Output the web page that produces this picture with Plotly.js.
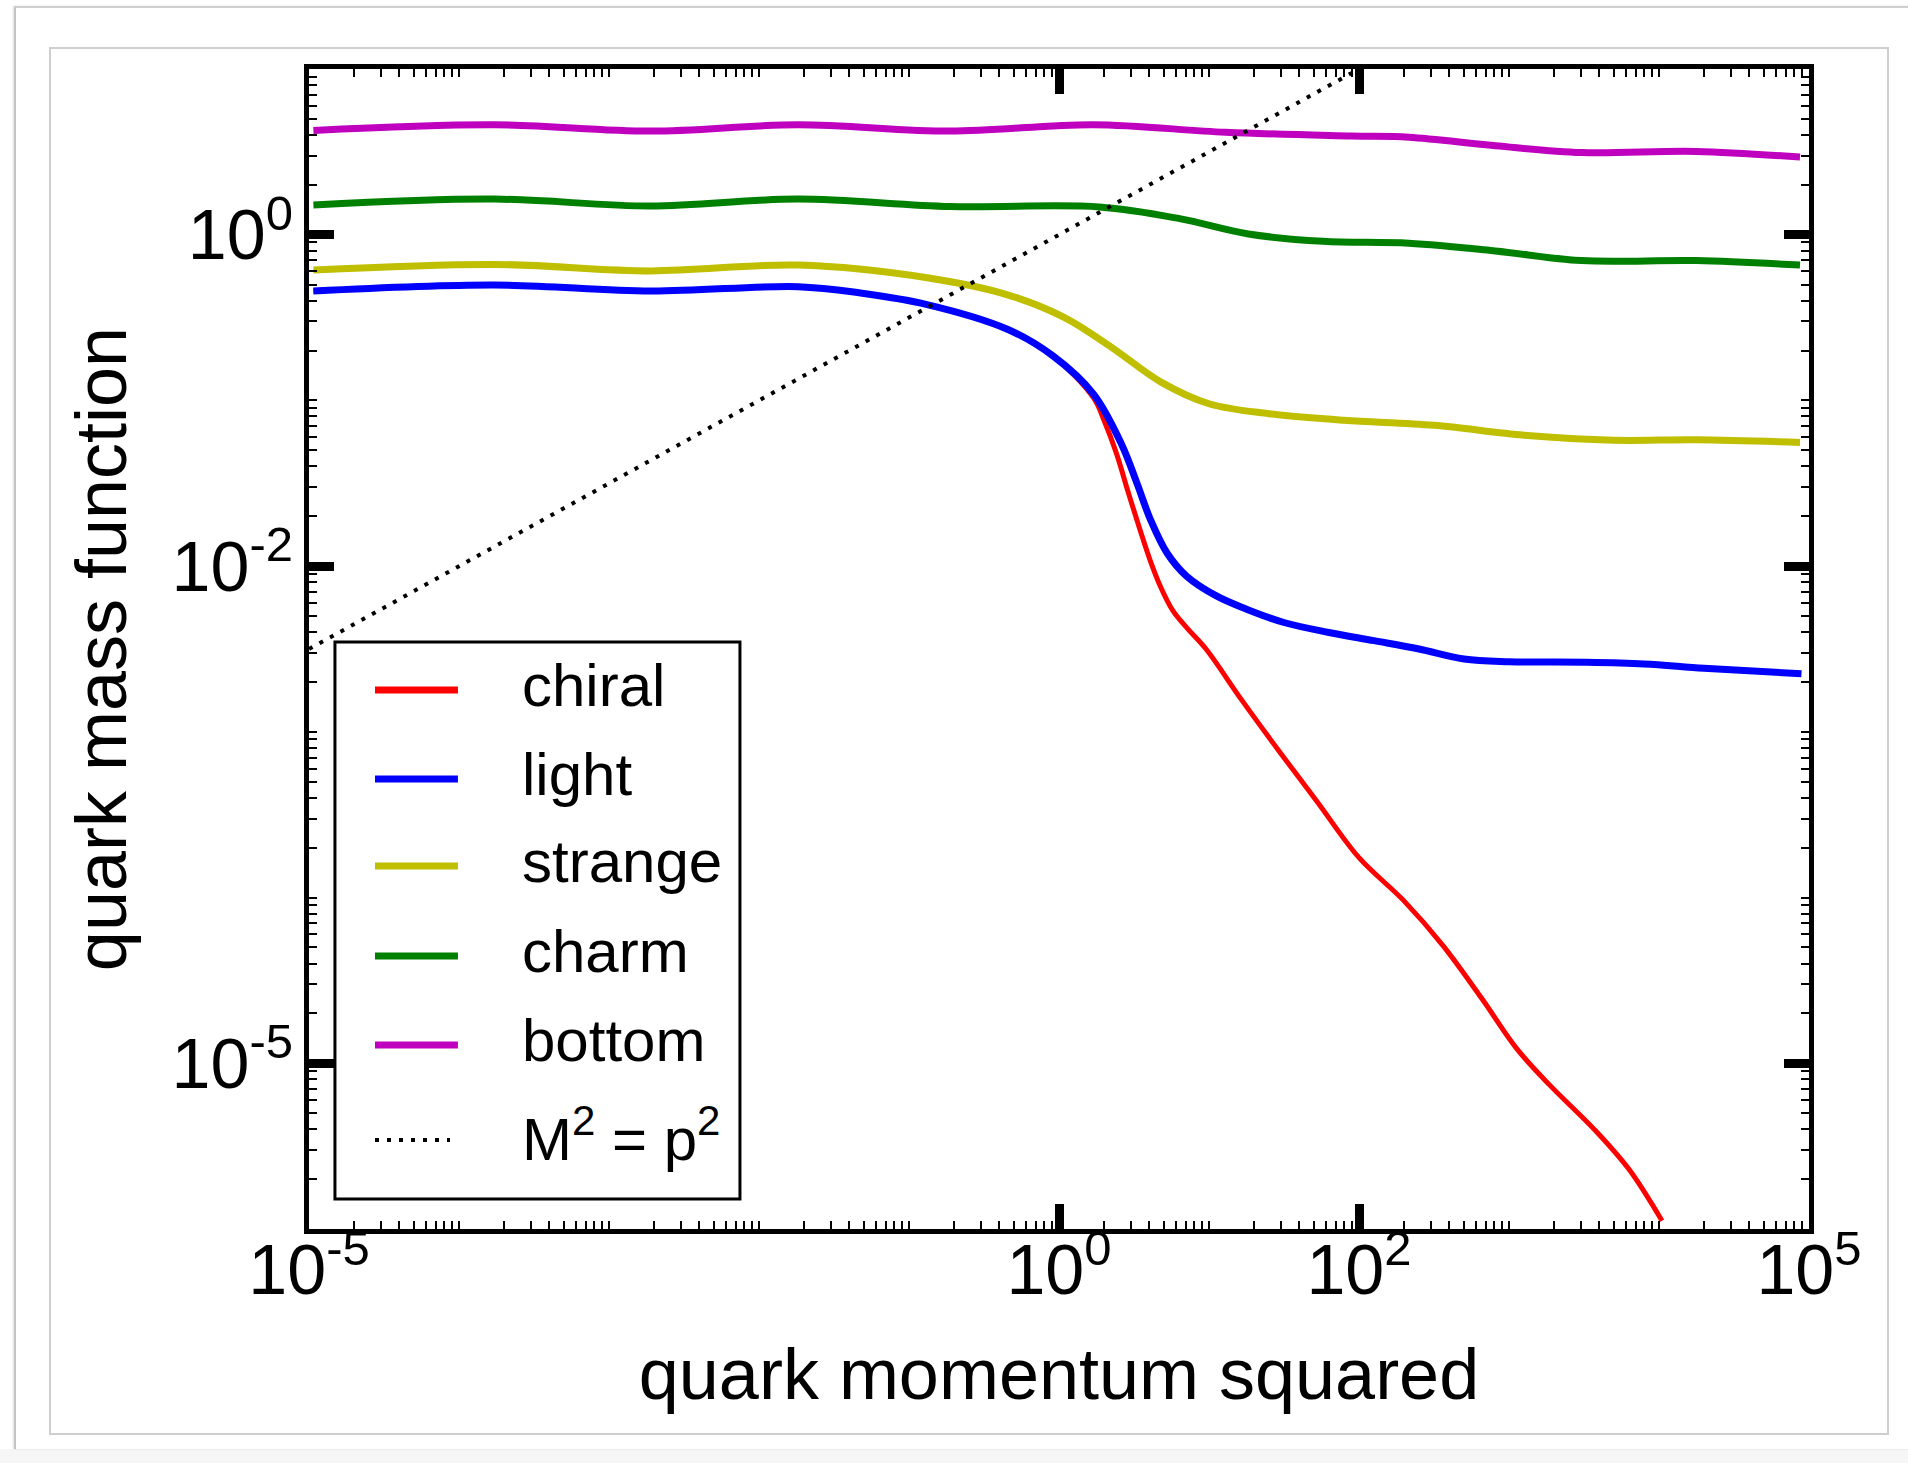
<!DOCTYPE html>
<html>
<head>
<meta charset="utf-8">
<script src="https://cdn.plot.ly/plotly-3.0.1.min.js"></script>
<style>
  html, body { margin: 0; padding: 0; background: #ffffff; }
  #card { position: absolute; left: 14px; top: 6px; width: 1920px; height: 1441px;
          border-left: 2px solid #c4c4c4; border-top: 2px solid #d0d0d0;
          box-shadow: -1px 0 2px rgba(0,0,0,0.12); background: #fff; }
  #under { position: absolute; left: 0; top: 1449px; width: 1908px; height: 14px; background: #f6f6f6; }
  #frame { position: absolute; left: 49px; top: 47px; width: 1836px; height: 1384px;
           border: 2px solid #cfcfcf; }
  #chart { position: absolute; left: 0; top: 0; width: 1908px; height: 1463px; }
</style>
</head>
<body>
<div id="under"></div>
<div id="card"></div>
<div id="frame"></div>
<div id="chart"></div>
<script>
// ---- data (quark momentum squared p^2, quark mass function M) ----
const chiralP = [1.07e-5, 1.72e-4, 1.89e-3, 1.82e-2, 4.74e-2, 0.132, 0.453, 0.916,
                 1.70, 1.995, 2.415, 2.884, 3.467, 4.074, 4.786, 5.754, 7.244, 9.550, 16.41, 29.51, 52.48,
                 100, 199.5, 363.1, 660.7, 1122, 1862, 3715, 6310, 10470];
const chiralM = [0.457, 0.497, 0.457, 0.486, 0.445, 0.379, 0.269, 0.185,
                 0.1035, 0.0759, 0.0479, 0.0282, 0.0166, 0.0107, 0.00741, 0.00537, 0.00417, 0.00316, 0.00157, 7.59e-4, 3.80e-4,
                 1.74e-4, 9.55e-5, 5.13e-5, 2.45e-5, 1.23e-5, 7.41e-6, 3.98e-6, 2.29e-6, 1.12e-6];

const lightP = [1.07e-5, 1.72e-4, 1.89e-3, 1.82e-2, 4.74e-2, 0.132, 0.453, 0.916, 1.70,
                2.63, 3.31, 4.07, 5.25, 7.08, 11.2, 17.8, 31.6, 63.1, 126, 251, 501, 1000,
                3160, 7940, 19950, 89100];
const lightM = [0.457, 0.497, 0.457, 0.486, 0.445, 0.379, 0.269, 0.185, 0.109,
                0.0537, 0.0316, 0.0191, 0.0120, 0.00871, 0.00661, 0.00550, 0.00457, 0.00398,
                0.00355, 0.00316, 0.00275, 0.00265, 0.00263, 0.00257, 0.00242, 0.00224];

const strangeP = [1.07e-5, 1.72e-4, 1.89e-3, 1.82e-2, 0.132, 0.453, 1.09, 2.24, 4.79,
                  10, 25.1, 79.4, 316, 1260, 5010, 17800, 87100];
const strangeM = [0.612, 0.662, 0.605, 0.656, 0.550, 0.434, 0.316, 0.209, 0.129,
                  0.0955, 0.0832, 0.0759, 0.0708, 0.0617, 0.0575, 0.0579, 0.0558];

const charmP = [1.07e-5, 1.72e-4, 1.89e-3, 1.82e-2, 0.188, 1.86, 6.37, 18.3, 57.7,
                215, 811, 3040, 17700, 87100];
const charmM = [1.51, 1.64, 1.49, 1.64, 1.48, 1.47, 1.25, 1.01, 0.912,
                0.887, 0.798, 0.698, 0.698, 0.656];

const bottomP = [1.07e-5, 1.72e-4, 1.89e-3, 1.82e-2, 0.188, 1.70, 12.9, 89.5,
                 215, 811, 3040, 17700, 87100];
const bottomM = [4.26, 4.61, 4.22, 4.61, 4.22, 4.61, 4.15, 3.94,
                 3.87, 3.44, 3.13, 3.18, 2.94];

const diagP = [1e-5, 100];
const diagM = [0.00316, 10];

const seriesNames = ['chiral', 'light', 'strange', 'charm', 'bottom', 'M<sup>2</sup> = p<sup>2</sup>'];
const seriesColors = ['#ff0000', '#0000ff', '#bfbf00', '#008000', '#bf00bf', '#000000'];

const xTickVals = [1e-5, 1, 100, 1e5];
const xTickText = ['10<sup>-5</sup>', '10<sup>0</sup>', '10<sup>2</sup>', '10<sup>5</sup>'];
const yTickVals = [1e-5, 1e-2, 1];
const yTickText = ['10<sup>-5</sup>', '10<sup>-2</sup>', '10<sup>0</sup>'];

// ---- minor tick positions (every k*10^n) ----
function minorTicks(nLo, nHi, majorExps) {
  const out = [];
  for (let n = nLo; n <= nHi; n++) {
    for (let k = 1; k < 10; k++) {
      if (k === 1 && majorExps.includes(n)) continue;
      out.push(k * Math.pow(10, n));
    }
  }
  return out;
}
const minorX = minorTicks(-5, 4, [-5, 0, 2]);
const minorY = minorTicks(-6, 0, [-5, -2, 0]);

const FONT = '"Liberation Sans", Arial, sans-serif';

const xs = [chiralP, lightP, strangeP, charmP, bottomP, diagP];
const ys = [chiralM, lightM, strangeM, charmM, bottomM, diagM];
const widths = [5, 7, 7, 7, 7, 4];
const DOT = '4px,8px';

const traces = xs.map((x, i) => ({
  type: 'scatter', mode: 'lines', x: x, y: ys[i], name: seriesNames[i],
  line: {color: seriesColors[i], width: widths[i], shape: i < 5 ? 'spline' : 'linear',
         smoothing: 1, dash: i === 5 ? DOT : 'solid'},
  showlegend: false, hoverinfo: 'skip'
}));

// ---- hand-built legend (box, long line samples, labels) ----
const legBox = {x0: 0.0173, x1: 0.2873, y0: 0.0259, y1: 0.506};
const legRows = [0.4647, 0.3879, 0.3129, 0.2353, 0.1586, 0.0767];
const shapes = [{
  type: 'rect', xref: 'paper', yref: 'paper', layer: 'above',
  x0: legBox.x0, x1: legBox.x1, y0: legBox.y0, y1: legBox.y1,
  line: {color: '#000', width: 3}, fillcolor: '#ffffff'
}];
const annotations = [];
seriesNames.forEach((nm, i) => {
  shapes.push({
    type: 'line', xref: 'paper', yref: 'paper', layer: 'above',
    x0: 0.044, x1: i === 5 ? 0.094 : 0.0993, y0: legRows[i], y1: legRows[i],
    line: {color: seriesColors[i], width: i === 5 ? 4 : 7, dash: i === 5 ? DOT : 'solid'}
  });
  annotations.push({
    xref: 'paper', yref: 'paper', x: 0.1407, y: legRows[i] + 0.004, xanchor: 'left', yanchor: 'middle',
    text: nm, showarrow: false, font: {family: FONT, size: 60, color: '#000'}
  });
});

const axisCommon = {
  type: 'log', showgrid: false, zeroline: false,
  showline: true, linewidth: 5, linecolor: '#000', mirror: 'allticks',
  ticks: 'inside', ticklen: 25, tickwidth: 9, tickcolor: '#000',
  tickmode: 'array',
  tickfont: {family: FONT, size: 70, color: '#000'}
};

const layout = {
  width: 1908, height: 1463,
  margin: {l: 309, r: 99, t: 69, b: 234, pad: 0},
  paper_bgcolor: 'rgba(0,0,0,0)', plot_bgcolor: 'rgba(0,0,0,0)',
  showlegend: false,
  xaxis: Object.assign({}, axisCommon, {
    range: [-5, 5], tickvals: xTickVals, ticktext: xTickText,
    ticklabelstandoff: -24,
    minor: {tickmode: 'array', tickvals: minorX, ticks: 'inside', ticklen: 8, tickwidth: 2, tickcolor: '#000', showgrid: false},
    title: {text: 'quark momentum squared', font: {family: FONT, size: 72, color: '#000'}, standoff: 42}
  }),
  yaxis: Object.assign({}, axisCommon, {
    range: [-6, 1], tickvals: yTickVals, ticktext: yTickText,
    ticklabelstandoff: -3,
    minor: {tickmode: 'array', tickvals: minorY, ticks: 'inside', ticklen: 8, tickwidth: 2, tickcolor: '#000', showgrid: false},
    title: {text: 'quark mass function', font: {family: FONT, size: 72, color: '#000'}, standoff: 23}
  }),
  shapes: shapes,
  annotations: annotations
};

Plotly.newPlot('chart', traces, layout, {staticPlot: true, displayModeBar: false});
</script>
</body>
</html>
